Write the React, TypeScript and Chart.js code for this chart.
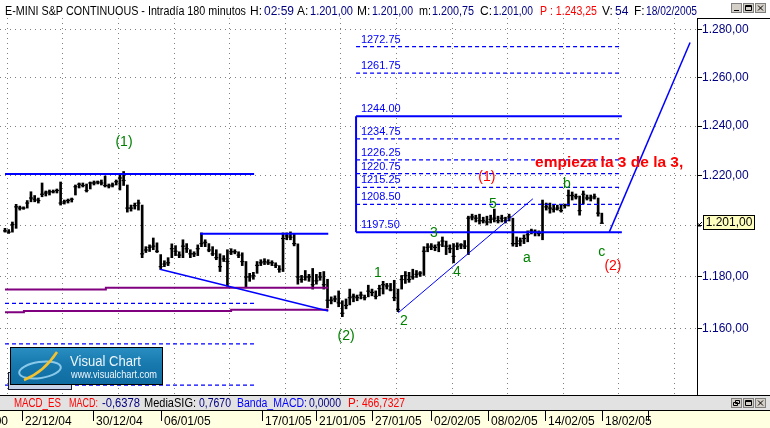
import React, { useEffect, useRef } from 'react';
import { Chart, registerables } from 'chart.js';

Chart.register(...registerables);

// ---------- price data (180-minute bars) ----------
const HIGH = [
  1199, 1198.5, 1201.5, 1208.5, 1207.8, 1207.5, 1210, 1213.5, 1212, 1211,
  1217, 1213.8, 1214.2, 1214.2, 1214.6, 1217.4, 1210.2, 1210.6, 1211, 1216.2,
  1217, 1217, 1216.6, 1217.4, 1217.8, 1217.8, 1218.2, 1219.8, 1216.6, 1217,
  1218.2, 1220.2, 1221.6, 1216.2, 1208.2, 1209, 1210.2, 1208.2, 1191.8, 1192.5,
  1195.2, 1193.3, 1188.7, 1186.3, 1187.5, 1192.9, 1192.2, 1189.8, 1194.5, 1193,
  1190.6, 1189.8, 1192.5, 1197.2, 1194.5, 1193, 1191.8, 1190.6, 1189, 1188.3,
  1190.6, 1191, 1190.6, 1189.8, 1189.4, 1186, 1181.4, 1181.8, 1186, 1186.7,
  1187.1, 1186.7, 1186.3, 1185.5, 1184.4, 1197.2, 1197.2, 1197.6, 1196.8, 1192.9,
  1180.6, 1182.5, 1181, 1183.3, 1181, 1181.8, 1182.1, 1179.1, 1172.3, 1172.7,
  1174.6, 1170.8, 1171.5, 1175.3, 1173.4, 1173, 1174.2, 1173, 1176.8, 1175.3,
  1174.6, 1176.8, 1178.3, 1177.5, 1177.5, 1178.7, 1175.3, 1180.6, 1182.1, 1181.8,
  1183, 1182.5, 1182.1, 1191.8, 1193, 1193, 1192.5, 1193.7, 1195.6, 1194,
  1192.5, 1193, 1193.3, 1193, 1194.2, 1203.8, 1204.6, 1204.2, 1204.6, 1203.4,
  1203.8, 1204.2, 1206.6, 1203.8, 1204.2, 1203.4, 1204.6, 1203, 1195.6, 1195.2,
  1196.4, 1198, 1198.7, 1198.4, 1198, 1210.2, 1209, 1209, 1208.2, 1208.2,
  1208.2, 1208.6, 1214.2, 1213.4, 1212.6, 1211.8, 1213.8, 1212.2, 1212.2, 1212.6,
  1211, 1205,
];
const LOW = [
  1197.5, 1197, 1197.5, 1199, 1206.2, 1206.5, 1207, 1209.5, 1209.5, 1209,
  1211.5, 1211.8, 1212.2, 1213, 1213, 1208.2, 1208.6, 1209, 1209.4, 1212.2,
  1215, 1215.4, 1213.4, 1214.6, 1216.2, 1216.6, 1216.2, 1215.4, 1215, 1215.4,
  1216.2, 1214.2, 1216, 1205.4, 1205.8, 1206.6, 1206.2, 1187.5, 1189.5, 1189.9,
  1190.6, 1189.5, 1182.9, 1184, 1184.4, 1187.5, 1188.3, 1187.5, 1187.5, 1189.5,
  1187.5, 1187.9, 1188.3, 1191.8, 1191.8, 1189.8, 1188.3, 1186.7, 1182.1, 1186,
  1176.4, 1188.7, 1189, 1187.5, 1184.4, 1176, 1178.3, 1179.1, 1181.4, 1184.4,
  1184.8, 1184.8, 1184.4, 1183.6, 1181.8, 1182.1, 1194.5, 1194.5, 1192.1, 1177.2,
  1177.9, 1178.7, 1178.3, 1175.3, 1177.2, 1178.7, 1175.3, 1168.1, 1169.6, 1170.4,
  1168.5, 1164.7, 1167.7, 1169.2, 1170.4, 1170.8, 1171.5, 1171.1, 1172.3, 1172.7,
  1171.5, 1172.7, 1173.4, 1175.3, 1174.6, 1170.8, 1166.6, 1175.3, 1177.5, 1177.9,
  1179.1, 1179.8, 1180.2, 1180.6, 1189.8, 1190.6, 1190.2, 1189.8, 1191.8, 1188.7,
  1189.4, 1185.5, 1190.6, 1191, 1191, 1188.7, 1202.3, 1201.5, 1200.7, 1201.1,
  1200.3, 1201.1, 1201.5, 1201.1, 1201.5, 1201.1, 1201.9, 1192, 1191.8, 1192.1,
  1193, 1193.7, 1196.8, 1196, 1196, 1194.5, 1206.2, 1205, 1205.4, 1206.2,
  1205.4, 1207, 1207.8, 1210.2, 1210.6, 1204.2, 1208.6, 1210.2, 1209.8, 1210.6,
  1203.8, 1201.1,
];
const CLOSE = [
  1198, 1197.5, 1200.5, 1207.5, 1207, 1207, 1209, 1211, 1210.5, 1210,
  1212.5, 1213, 1213.5, 1213.5, 1214, 1209, 1209.5, 1210, 1210.5, 1215.5,
  1216.5, 1216, 1214, 1217, 1217, 1217.4, 1217, 1216, 1215.8, 1216.2,
  1217.5, 1219, 1218, 1207, 1207, 1208, 1209, 1189, 1190.5, 1191.5,
  1192, 1190, 1184, 1185, 1185.5, 1191, 1190, 1188.5, 1192, 1191,
  1189, 1189, 1191, 1193, 1193.5, 1190.5, 1189, 1187.5, 1184, 1187,
  1186, 1189.8, 1189.8, 1188.5, 1186, 1180, 1180, 1180.5, 1184.5, 1185.5,
  1186, 1185.5, 1185.5, 1184.5, 1183, 1195, 1196, 1195.5, 1193, 1180,
  1179, 1180, 1180, 1177, 1178.5, 1180, 1177, 1171, 1171, 1171.5,
  1170, 1166, 1169, 1172, 1172.5, 1172, 1173, 1172, 1174.5, 1174,
  1172.5, 1175.5, 1177, 1176.5, 1175, 1172, 1167.5, 1179, 1180.5, 1179,
  1180, 1181, 1181.5, 1190, 1191.5, 1192, 1191.5, 1192.5, 1194, 1192,
  1191, 1188, 1192, 1192.5, 1192, 1203, 1203.5, 1203, 1202, 1202,
  1201.5, 1202.5, 1203, 1202, 1203, 1202, 1203.5, 1193, 1193, 1194,
  1195, 1196.5, 1198, 1197.5, 1197, 1208.5, 1207.5, 1207, 1206.5, 1207,
  1206, 1208, 1212, 1212, 1211.5, 1206, 1212.5, 1211, 1211, 1211.5,
  1205, 1201,
];

// ---------- axes ----------
const Y_MIN = 1135.1;
const Y_MAX = 1284.8;
const Y_TICKS = [1160, 1180, 1200, 1220, 1240, 1260, 1280];
const Y_HIDDEN_LABEL = 1200;
const X_MIN = -1.35;
const X_MAX = 186.67;
const GRID_START = 8.1;
const GRID_STEP = 15;
const GRID_COUNT = 12;
const DATE_LABELS = ['22/12/04', '30/12/04', '06/01/05', '17/01/05', '21/01/05', '27/01/05', '02/02/05', '08/02/05', '14/02/05', '18/02/05', ''];
const DATE_BARS = [4.6, 23.7, 42.1, 69.3, 83.9, 99, 114.9, 130.3, 145.7, 161, 173.5];

// ---------- drawn studies (bar index, price) ----------
const RESIST_LINE = [[0, 1220.6], [67.2, 1220.6]];
const RANGE_LINE = [[52.6, 1196.9], [87.2, 1196.9]];
const DOWN_TREND = [[41.8, 1183.0], [87.2, 1166.9]];
const PURPLE_UPPER = [[0, 1175.1], [27.2, 1175.1], [27.2, 1175.8], [87.2, 1175.8]];
const PURPLE_LOWER = [[0, 1166.4], [5.1, 1166.4], [5.1, 1166.9], [61, 1166.9], [61, 1167.3], [87.2, 1167.3]];
const LEFT_DASHED = [1169.8, 1154.3, 1138.8];
const LEFT_DASHED_FROM = 0;
const LEFT_DASHED_TO = 67.2;
const FIB_LEVELS = [1272.75, 1261.75, 1244, 1234.75, 1226.25, 1220.75, 1215.25, 1208.5, 1197.5];
const FIB_SOLID = [1244, 1197.5];
const FIB_FROM = 94.7;
const FIB_TO = 166.4;
const FIB_LABEL_BAR = 96.0;
const UP_TREND = [[106.1, 1166.2], [142.4, 1210.7]];
const PROJECTION = [[163, 1197.5], [184.8, 1274.5]];

const WAVE_TEXT = ['(1)', '(2)', '1', '2', '3', '4', '5', 'a', 'b', 'c', '(1)', '(2)'];
const WAVE_BAR = [32.1, 92.0, 100.6, 107.6, 115.7, 121.9, 131.6, 140.8, 151.6, 161.0, 130.0, 164.0];
const WAVE_PRICE = [1233.5, 1157.3, 1181.5, 1163.0, 1197.1, 1181.9, 1208.6, 1187.4, 1216.6, 1189.7, 1219.4, 1184.2];
const WAVE_KIND = ['g', 'g', 'g', 'g', 'g', 'g', 'g', 'g', 'g', 'g', 'r', 'r'];
const COMMENT = 'empieza la 3 de la 3,';
const COMMENT_BAR = 143.0;
const COMMENT_PRICE = 1225.0;

const TITLE_SEGS: [string, string, number, number][] = [
  ['E-MINI S&P CONTINUOUS - Intradía 180 minutos', '#000000', 5, 241],
  ['H:', '#000000', 250, 12],
  ['02:59', '#000080', 264, 30],
  ['A:', '#000000', 297, 12],
  ['1.201,00', '#000080', 310, 43],
  ['M:', '#000000', 357, 14],
  ['1.201,00', '#000080', 372, 41],
  ['m:', '#000000', 419, 12],
  ['1.200,75', '#000080', 432, 42],
  ['C:', '#000000', 480, 12],
  ['1.201,00', '#000080', 493, 40],
  ['P : 1.243,25', '#FF0000', 540, 57],
  ['V:', '#000000', 602, 12],
  ['54', '#000080', 615, 14],
  ['F:', '#000000', 634, 11],
  ['18/02/2005', '#000080', 646, 51],
];
const MACD_SEGS: [string, string, number, number][] = [
  ['MACD_ES', '#FF0000', 14, 47],
  ['MACD:', '#FF0000', 69, 29],
  ['-0,6378', '#000080', 102, 38],
  ['MediaSIG:', '#000000', 144, 52],
  ['0,7670', '#000080', 199, 32],
  ['Banda_MACD:', '#0000FF', 237, 70],
  ['0,0000', '#000080', 309, 32],
  ['P:', '#FF0000', 348, 11],
  ['466,7327', '#FF0000', 362, 43],
];

const FONT = '"Liberation Sans", Arial, sans-serif';
const BLUE = '#0000FF';
const PURPLE = '#800080';

function fmtEs(v: number): string {
  const [a, b] = v.toFixed(2).split('.');
  return a.replace(/\B(?=(\d{3})+(?!\d))/g, '.') + ',' + b;
}

function pts(list: number[][]) {
  return list.map(([x, y]) => ({ x, y }));
}

function lineDs(list: number[][], color: string, width: number, dash: number[] = []) {
  return {
    type: 'line',
    data: pts(list),
    borderColor: color,
    borderWidth: width,
    borderDash: dash,
    pointRadius: 0,
    pointHoverRadius: 0,
    fill: false,
    tension: 0,
    order: 0,
  };
}

function drawButtons(ctx: CanvasRenderingContext2D, y: number, restore: boolean) {
  const xs = [731, 743, 755];
  xs.forEach((x, k) => {
    ctx.fillStyle = '#D4D0C8';
    ctx.fillRect(x, y, 11, 10);
    ctx.strokeStyle = '#808080';
    ctx.lineWidth = 1;
    ctx.strokeRect(x + 0.5, y + 0.5, 10, 9);
    ctx.strokeStyle = '#000';
    ctx.beginPath();
    if (k === 0) {
      if (restore) {
        ctx.rect(x + 4.5, y + 2.5, 4, 3);
        ctx.rect(x + 2.5, y + 4.5, 4, 3);
      } else {
        ctx.moveTo(x + 3, y + 7.5);
        ctx.lineTo(x + 8, y + 7.5);
      }
    } else if (k === 1) {
      ctx.rect(x + 2.5, y + 2.5, 6, 5);
      ctx.moveTo(x + 2.5, y + 3.5);
      ctx.lineTo(x + 8.5, y + 3.5);
    } else {
      ctx.moveTo(x + 3, y + 2.5);
      ctx.lineTo(x + 8, y + 7.5);
      ctx.moveTo(x + 8, y + 2.5);
      ctx.lineTo(x + 3, y + 7.5);
    }
    ctx.stroke();
  });
}

function drawLogo(ctx: CanvasRenderingContext2D) {
  ctx.fillStyle = '#C9D3E8';
  ctx.fillRect(8, 372, 64, 18);
  ctx.strokeStyle = '#1A1A30';
  ctx.lineWidth = 1;
  ctx.strokeRect(8.5, 372.5, 63, 17);
  const g = ctx.createLinearGradient(0, 347, 0, 385);
  g.addColorStop(0, '#2A8FC2');
  g.addColorStop(0.45, '#1779AE');
  g.addColorStop(1, '#0F6B9F');
  ctx.fillStyle = g;
  ctx.fillRect(10, 347, 153, 38);
  ctx.strokeStyle = '#000';
  ctx.strokeRect(10.5, 347.5, 152, 37);
  ctx.strokeStyle = 'rgba(150,210,240,0.9)';
  ctx.lineWidth = 2;
  ctx.beginPath();
  ctx.ellipse(40, 370, 21, 8, -0.15, 0, Math.PI * 2);
  ctx.stroke();
  ctx.strokeStyle = '#F2C230';
  ctx.lineWidth = 2.5;
  ctx.beginPath();
  ctx.moveTo(24, 380);
  ctx.quadraticCurveTo(44, 372, 57, 352);
  ctx.stroke();
  ctx.fillStyle = '#EEF6FB';
  ctx.textAlign = 'left';
  ctx.textBaseline = 'alphabetic';
  ctx.font = `15px ${FONT}`;
  ctx.fillText('Visual Chart', 70, 366, 71);
  ctx.font = `11px ${FONT}`;
  ctx.fillText('www.visualchart.com', 71, 378, 86);
}

const studiesPlugin = {
  id: 'studies',
  beforeDraw(chart: any) {
    const { ctx, width, height } = chart;
    ctx.save();
    ctx.fillStyle = '#FFFFFF';
    ctx.fillRect(0, 0, width, height);
    ctx.restore();
  },
  afterDatasetsDraw(chart: any) {
    const { ctx } = chart;
    const xs = chart.scales.x;
    const ys = chart.scales.y;
    ctx.save();
    ctx.font = `11px ${FONT}`;
    ctx.fillStyle = BLUE;
    ctx.textAlign = 'left';
    ctx.textBaseline = 'alphabetic';
    FIB_LEVELS.forEach((v) => {
      ctx.fillText(v.toFixed(2), xs.getPixelForValue(FIB_LABEL_BAR), ys.getPixelForValue(v) - 4);
    });
    ctx.textAlign = 'center';
    ctx.textBaseline = 'middle';
    ctx.font = `14px ${FONT}`;
    WAVE_TEXT.forEach((t, k) => {
      ctx.fillStyle = WAVE_KIND[k] === 'r' ? '#FF0000' : '#008000';
      ctx.fillText(t, xs.getPixelForValue(WAVE_BAR[k]), ys.getPixelForValue(WAVE_PRICE[k]));
    });
    ctx.font = `bold 15.5px ${FONT}`;
    ctx.fillStyle = '#FF0000';
    ctx.textAlign = 'left';
    ctx.fillText(COMMENT, xs.getPixelForValue(COMMENT_BAR), ys.getPixelForValue(COMMENT_PRICE));
    ctx.restore();
  },
  afterDraw(chart: any) {
    const { ctx, width, height, chartArea } = chart;
    const xs = chart.scales.x;
    const ys = chart.scales.y;
    ctx.save();
    // axis box
    ctx.strokeStyle = '#000';
    ctx.lineWidth = 1;
    ctx.beginPath();
    ctx.moveTo(chartArea.right + 0.5, chartArea.top);
    ctx.lineTo(chartArea.right + 0.5, chartArea.bottom);
    ctx.moveTo(chartArea.right, chartArea.top + 0.5);
    ctx.lineTo(width, chartArea.top + 0.5);
    ctx.stroke();

    // last price marker
    const last = CLOSE[CLOSE.length - 1];
    const py = Math.round(ys.getPixelForValue(last));
    ctx.fillStyle = '#FFFFC0';
    ctx.fillRect(703, py - 8, 52, 15);
    ctx.strokeStyle = '#000';
    ctx.strokeRect(703.5, py - 7.5, 51, 14);
    ctx.beginPath();
    ctx.moveTo(698, py + 3);
    ctx.lineTo(702, py - 1);
    ctx.moveTo(698, py + 3);
    ctx.lineTo(698, py);
    ctx.moveTo(698, py + 3);
    ctx.lineTo(701, py + 3);
    ctx.stroke();
    ctx.fillStyle = '#000';
    ctx.font = `12px ${FONT}`;
    ctx.textAlign = 'center';
    ctx.textBaseline = 'middle';
    ctx.fillText(fmtEs(last), 729, py);

    drawLogo(ctx);

    // title bar
    ctx.fillStyle = '#FFFFFF';
    ctx.fillRect(0, 0, chartArea.right, chartArea.top - 1);
    ctx.font = `12px ${FONT}`;
    ctx.textAlign = 'left';
    ctx.textBaseline = 'alphabetic';
    TITLE_SEGS.forEach(([t, c, x, w]) => {
      ctx.fillStyle = c;
      ctx.fillText(t, x, 15, w);
    });
    drawButtons(ctx, 3, false);

    // MACD strip
    const stripTop = chartArea.bottom;
    ctx.fillStyle = '#E2E2E2';
    ctx.fillRect(0, stripTop, width, 15);
    ctx.strokeStyle = '#000';
    ctx.beginPath();
    ctx.moveTo(0, stripTop + 0.5);
    ctx.lineTo(width, stripTop + 0.5);
    ctx.stroke();
    ctx.font = `12px ${FONT}`;
    MACD_SEGS.forEach(([t, c, x, w]) => {
      ctx.fillStyle = c;
      ctx.fillText(t, x, stripTop + 12, w);
    });
    drawButtons(ctx, stripTop + 3, true);

    // date axis
    const dTop = stripTop + 15;
    ctx.fillStyle = '#FFFFE1';
    ctx.fillRect(0, dTop, width, height - dTop);
    ctx.strokeStyle = '#000';
    ctx.beginPath();
    ctx.moveTo(0, dTop + 0.5);
    ctx.lineTo(width, dTop + 0.5);
    DATE_BARS.forEach((b) => {
      const px = Math.round(xs.getPixelForValue(b)) + 0.5;
      ctx.moveTo(px, dTop);
      ctx.lineTo(px, dTop + 11);
    });
    ctx.stroke();
    ctx.fillStyle = '#000';
    ctx.font = `12px ${FONT}`;
    ctx.textAlign = 'left';
    DATE_LABELS.forEach((t, k) => {
      if (!t) return;
      ctx.fillText(t, Math.round(xs.getPixelForValue(DATE_BARS[k])) + 3, height - 3);
    });
    ctx.textAlign = 'right';
    ctx.fillText('00', 8, height - 3);
    ctx.restore();
  },
};

export default function App() {
  const ref = useRef<HTMLCanvasElement | null>(null);

  useEffect(() => {
    const canvas = ref.current;
    if (!canvas) return;

    const datasets: any[] = [
      lineDs(RESIST_LINE, BLUE, 2),
      lineDs(RANGE_LINE, BLUE, 2),
      lineDs(DOWN_TREND, BLUE, 1.5),
      lineDs(PURPLE_UPPER, PURPLE, 2),
      lineDs(PURPLE_LOWER, PURPLE, 2),
      ...LEFT_DASHED.map((v) => lineDs([[LEFT_DASHED_FROM, v], [LEFT_DASHED_TO, v]], BLUE, 1.3, [4, 3])),
      ...FIB_LEVELS.map((v) =>
        FIB_SOLID.includes(v)
          ? lineDs([[FIB_FROM, v], [FIB_TO, v]], BLUE, 2)
          : lineDs([[FIB_FROM, v], [FIB_TO, v]], BLUE, 1.3, [4, 3])
      ),
      lineDs([[FIB_FROM, FIB_SOLID[1]], [FIB_FROM, FIB_SOLID[0]]], BLUE, 2),
      lineDs(UP_TREND, BLUE, 1),
      lineDs(PROJECTION, BLUE, 1.5),
      {
        type: 'line',
        data: CLOSE.map((c, i) => ({ x: i, y: c })),
        showLine: false,
        pointStyle: 'line',
        pointRadius: 2,
        pointHoverRadius: 0,
        pointBorderWidth: 1.2,
        pointBorderColor: '#000',
        borderColor: '#000',
        order: 9,
      },
      {
        type: 'bar',
        data: HIGH.map((h, i) => ({ x: i, y: [LOW[i], h] })),
        backgroundColor: '#000',
        borderWidth: 0,
        barThickness: 2,
        grouped: false,
        order: 10,
      },
    ];

    const chart = new Chart(canvas, {
      type: 'bar',
      data: { datasets },
      options: {
        responsive: false,
        devicePixelRatio: 1,
        animation: false,
        events: [],
        layout: { autoPadding: false, padding: { top: 18, bottom: 33, left: 0, right: 0 } },
        plugins: { legend: { display: false }, tooltip: { enabled: false } },
        scales: {
          x: {
            type: 'linear',
            min: X_MIN,
            max: X_MAX,
            bounds: 'data',
            offset: false,
            afterBuildTicks: (s: any) => {
              s.ticks = Array.from({ length: GRID_COUNT }, (_, k) => ({ value: GRID_START + k * GRID_STEP }));
            },
            afterFit: (s: any) => {
              s.height = 0;
              s.paddingLeft = 0;
              s.paddingRight = 0;
            },
            ticks: { display: false },
            grid: { color: '#808080', lineWidth: 1, drawTicks: false },
            border: { display: false, dash: [1, 4] },
          },
          y: {
            type: 'logarithmic',
            position: 'right',
            min: Y_MIN,
            max: Y_MAX,
            bounds: 'data',
            afterBuildTicks: (s: any) => {
              s.ticks = Y_TICKS.map((v) => ({ value: v }));
            },
            afterFit: (s: any) => {
              s.width = 73;
            },
            ticks: {
              callback: (v: any) => (Number(v) === Y_HIDDEN_LABEL ? '' : fmtEs(Number(v))),
              color: '#000080',
              font: { family: FONT, size: 12 },
              padding: 0,
              autoSkip: false,
              maxRotation: 0,
            },
            grid: {
              color: '#808080',
              lineWidth: 1,
              drawTicks: true,
              tickLength: 5,
              tickColor: '#000',
              tickWidth: 1,
              tickBorderDash: [],
            },
            border: { display: false, dash: [1, 4] },
          },
        },
      } as any,
      plugins: [studiesPlugin],
    } as any);

    return () => chart.destroy();
  }, []);

  return (
    <div style={{ position: 'absolute', left: 0, top: 0, width: 770, height: 428 }}>
      <canvas ref={ref} width={770} height={428} style={{ display: 'block' }} />
    </div>
  );
}
